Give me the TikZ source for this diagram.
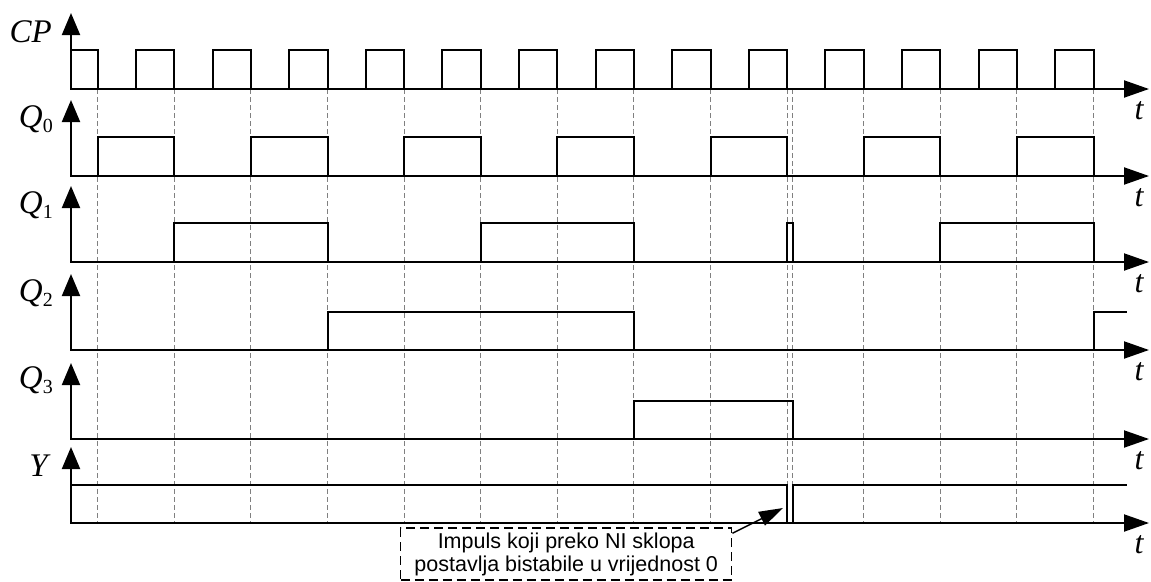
\documentclass[tikz,border=0pt]{standalone}
\usepackage{fontspec}
\setmainfont{Liberation Serif}
\newfontfamily\labelsans{Liberation Sans}
\usetikzlibrary{arrows.meta,calc}
\newcommand{\subdigit}[1]{\raisebox{-5pt}{\fontsize{20}{20}\selectfont\upshape #1}}
\begin{document}
\begin{tikzpicture}[x=1pt,y=-1pt,
  axes/.style={line width=2pt,{Triangle[length=22pt,width=18pt]}-{Triangle[length=25pt,width=17pt]}},
  sig/.style={line width=2pt},
  guide/.style={gray,line width=1pt,dash pattern=on 5pt off 3pt},
  lab/.style={font=\fontsize{33}{33}\selectfont\itshape, inner sep=0pt, anchor=base east},
  tlab/.style={font=\fontsize{32}{32}\selectfont\itshape, inner sep=0pt, anchor=base},
  callout/.style={draw, line width=1.5pt, dash pattern=on 9pt off 5pt, inner sep=0pt},
  note/.style={font=\labelsans\fontsize{21.5}{24}\selectfont, inner sep=0pt, anchor=base},
  pointer/.style={line width=1.5pt,-{Triangle[length=24pt,width=15pt]}}
]
\useasboundingbox (0,0) rectangle (1151,581);
% guide lines
\foreach \x in {97.7,174.3,250.9,327.5,404.1,480.7,557.3,633.9,710.5,787.1,792.5,863.7,940.3,1016.9,1093.5}
  \draw[guide] (\x,89) -- (\x,523);
% axes
\foreach \b in {89,176,262,350,439,523} {
  \draw[axes] (71,{\b-76}) -- (71,\b) -- (1149,\b);
  \node[tlab] at (1139,{\b+30}) {t};
}
% CP
\draw[sig] (71,89) -- (71,50) -- (97.7,50) -- (97.7,89);
\foreach \k in {0,...,12}
  \draw[sig] ({136+76.6*\k},89) -- ++(0,-39) -- ++(38.3,0) -- ++(0,39);
% Q0
\foreach \a in {97.7,250.9,404.1,557.3,710.5,863.7,1016.9}
  \draw[sig] (\a,176) -- (\a,137) -- ({\a+76.6},137) -- ({\a+76.6},176);
% Q1
\foreach \a/\e in {174.3/327.5,480.7/633.9,787.1/792.5,940.3/1093.5}
  \draw[sig] (\a,262) |- (\e,223) -- (\e,262);
% Q2
\draw[sig] (327.5,350) |- (633.9,312) -- (633.9,350);
\draw[sig] (1093.5,350) |- (1127,312);
% Q3
\draw[sig] (633.9,439) |- (792.5,401) -- (792.5,439);
% Y
\draw[sig] (71,485) -- (787.1,485) -- (787.1,523);
\draw[sig] (792.5,523) -- (792.5,485) -- (1127,485);
% labels
\node[lab] (lcp) at (52,42) {CP};
\node[lab] (lq0) at (53,127) {Q\subdigit{0}};
\node[lab] (lq1) at (53,213) {Q\subdigit{1}};
\node[lab] (lq2) at (53,301) {Q\subdigit{2}};
\node[lab] (lq3) at (53,388) {Q\subdigit{3}};
\node[lab] (ly) at (48,476) {Y};
% callout
\node[callout, minimum width=331pt, minimum height=52pt] (box) at (566.2,554) {};
\node[note] (n1) at (566.2,548.3) {Impuls koji preko NI sklopa};
\node[note] (n2) at (566.2,571.5) {postavlja bistabile u vrijednost 0};
\coordinate (tip) at (783,508);
\draw[pointer] ($(box.north east)+(0,6)$) -- (tip);
\end{tikzpicture}
\end{document}
